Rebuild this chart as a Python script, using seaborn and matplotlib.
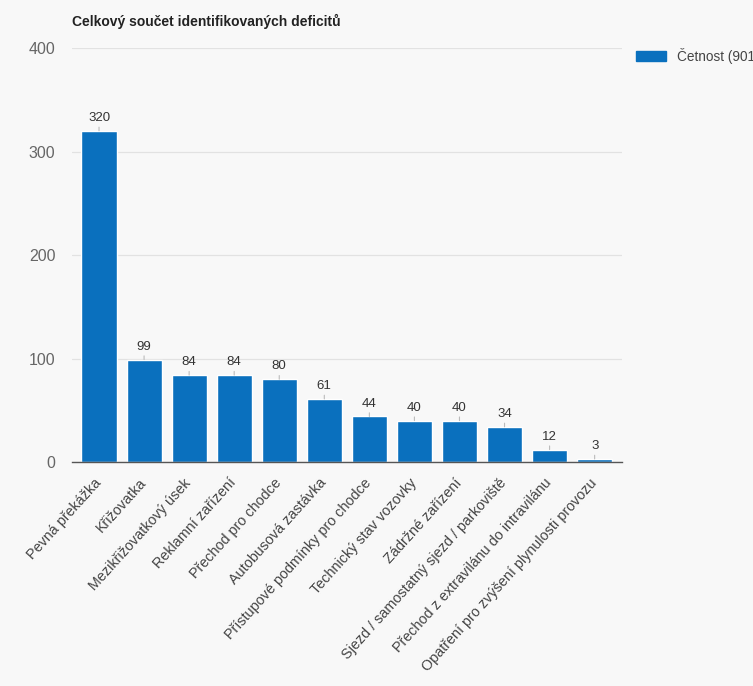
import matplotlib
matplotlib.use("Agg")
import matplotlib.pyplot as plt
from matplotlib.patches import Patch
from matplotlib.transforms import ScaledTranslation
import seaborn as sns
import pandas as pd

categories = [
    "Pevná překážka",
    "Křižovatka",
    "Mezikřižovatkový úsek",
    "Reklamní zařízení",
    "Přechod pro chodce",
    "Autobusová zastávka",
    "Přístupové podmínky pro chodce",
    "Technický stav vozovky",
    "Zádržné zařízení",
    "Sjezd / samostatný sjezd / parkoviště",
    "Přechod z extravilánu do intravilánu",
    "Opatření pro zvýšení plynulosti provozu",
]
counts = [320, 99, 84, 84, 80, 61, 44, 40, 40, 34, 12, 3]
y_ticks = [0, 100, 200, 300, 400]
title = "Celkový součet identifikovaných deficitů"
series_name = "Četnost"

df = pd.DataFrame({"kategorie": categories, "pocet": counts})

sns.set_theme(style="white")
plt.rcParams["font.family"] = ["Liberation Sans", "DejaVu Sans"]

bg = "#f8f8f8"
bar_color = "#0a70be"

fig = plt.figure(figsize=(7.53, 6.86), dpi=100, facecolor=bg)
ax = fig.add_axes([0.0956, 0.3265, 0.730, 0.6035], facecolor=bg)

sns.barplot(data=df, x="kategorie", y="pocet", color=bar_color,
            saturation=1, width=0.78, ax=ax, zorder=3)

ax.set_ylim(0, 400)
ax.set_xlim(-0.6, len(categories) - 0.4)
ax.set_yticks(y_ticks)
ax.set_yticklabels([str(t) for t in y_ticks], fontsize=11.5, color="#666666")
ax.tick_params(axis="y", length=0, pad=12)
ax.tick_params(axis="x", length=0, pad=10)
ax.yaxis.grid(True, color="#e2e2e2", linewidth=0.9, zorder=0)
ax.xaxis.grid(False)
for side in ("top", "right", "left"):
    ax.spines[side].set_visible(False)
ax.spines["bottom"].set_color("#555555")
ax.spines["bottom"].set_linewidth(1.0)
ax.spines["bottom"].set_zorder(4)

ax.set_xticks(range(len(categories)))
ax.set_xticklabels(categories, rotation=48, ha="right", va="top",
                   rotation_mode="anchor", fontsize=10.4, color="#444444")
shift = ScaledTranslation(-4 / 72, 0, fig.dpi_scale_trans)
for lbl in ax.get_xticklabels():
    lbl.set_transform(lbl.get_transform() + shift)
ax.set_xlabel("")
ax.set_ylabel("")

# value labels with short leader lines
for i, v in enumerate(counts):
    ax.annotate(str(v), xy=(i, v), xytext=(0, 5), textcoords="offset points",
                ha="center", va="bottom", fontsize=9.5, color="#333333",
                arrowprops=dict(arrowstyle="-", color="#bbbbbb", lw=0.8,
                                shrinkA=0, shrinkB=0), zorder=5)

fig.text(0.0956, 0.962, title, fontsize=10, fontweight="bold",
         color="#222222", ha="left", va="baseline")

leg = ax.legend(handles=[Patch(facecolor=bar_color, edgecolor=bar_color,
                               label=f"{series_name} ({sum(counts)})")],
                loc="upper left", bbox_to_anchor=(0.838, 0.938),
                bbox_transform=fig.transFigure, frameon=False,
                fontsize=9.8, handlelength=2.2, handleheight=0.8,
                handletextpad=0.8, borderaxespad=0)
for t in leg.get_texts():
    t.set_color("#444444")

fig.savefig("out.png", dpi=100, facecolor=bg)
